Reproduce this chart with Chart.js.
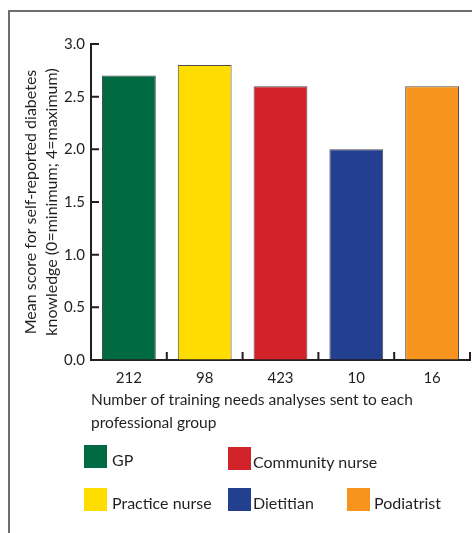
<!DOCTYPE html>
<html>
<head>
<meta charset="utf-8">
<script src="https://cdn.jsdelivr.net/npm/chart.js@4.4.1/dist/chart.umd.min.js"></script>
<style>
  body { margin: 0; background: #fff; }
  #wrap { position: relative; width: 472px; height: 533px; overflow: hidden; font-family: Lato, sans-serif; color: #231f20; }
  #frame { position: absolute; left: 8px; top: 10px; width: 480px; height: 540px; border-top: 2px solid #6d6e71; border-left: 2px solid #6d6e71; }
  #chartBox { position: absolute; left: 0; top: 0; width: 472px; height: 533px; }
  .item { position: absolute; font-size: 16px; line-height: 23px; white-space: nowrap; }
  .item span { position: absolute; left: 0; top: 0; width: 23px; height: 23px; }
  .item b { font-weight: normal; position: absolute; top: 3px; }
</style>
</head>
<body>
<div id="wrap">
  <div id="frame"></div>
  <div id="chartBox"><canvas id="myChart"></canvas></div>
  <div id="legend"></div>
</div>
<script>
const ctx = document.getElementById('myChart');

var groups = ['GP', 'Practice nurse', 'Community nurse', 'Dietitian', 'Podiatrist'];
var analysesSent = ['212', '98', '423', '10', '16'];
var meanScore = [2.7, 2.8, 2.6, 2.0, 2.6];
var groupColours = ['#006b43', '#ffdd00', '#d2232a', '#233f8f', '#f7941d'];

// where each legend entry sits (left, top, text offset)
var legendSpots = [[84, 445, 28], [84, 488, 28], [228, 447, 25], [228, 488, 25], [347, 488, 27]];

var ink = '#231f20';

// inward ticks, like the printed figure
const tickMarks = {
    id: 'tickMarks',
    afterDraw(chart) {
        const c = chart.ctx;
        const area = chart.chartArea;
        const x = chart.scales.x;
        const y = chart.scales.y;
        c.save();
        c.strokeStyle = ink;
        c.lineWidth = 2;
        c.beginPath();
        y.ticks.forEach((t, i) => {
            const py = y.getPixelForTick(i);
            c.moveTo(area.left, py);
            c.lineTo(area.left + 8, py);
        });
        for (let i = 1; i <= analysesSent.length; i++) {
            const px = x.getPixelForValue(i - 0.5);
            c.moveTo(px, area.bottom);
            c.lineTo(px, area.bottom - 8);
        }
        c.stroke();
        c.restore();
    }
};

new Chart(ctx, {
    type: 'bar',
    data: {
        labels: analysesSent,
        datasets: [{
            data: meanScore,
            backgroundColor: groupColours,
            borderColor: '#4d4d4f',
            borderWidth: 1,
            barPercentage: 0.71,
            categoryPercentage: 1
        }]
    },
    options: {
        responsive: true,
        maintainAspectRatio: false,
        animation: false,
        layout: { padding: { left: 18, right: 2, top: 44, bottom: 99 } },
        plugins: { legend: { display: false }, tooltip: { enabled: false } },
        scales: {
            y: {
                min: 0,
                max: 3,
                afterFit: (s) => { s.width = 73; },
                ticks: {
                    stepSize: 0.5,
                    color: ink,
                    padding: 6,
                    font: { family: 'Lato', size: 15 },
                    callback: (v) => v.toFixed(1)
                },
                grid: { drawOnChartArea: false, drawTicks: false },
                border: { color: ink, width: 2 },
                title: {
                    display: true,
                    text: ['Mean score for self-reported diabetes', 'knowledge (0=minimum; 4=maximum)'],
                    color: ink,
                    font: { family: 'Lato', size: 16, lineHeight: 1.3 },
                    padding: { top: 2.5, bottom: 0 }
                }
            },
            x: {
                afterFit: (s) => { s.height = 74; },
                ticks: {
                    color: ink,
                    padding: 9,
                    font: { family: 'Lato', size: 15 }
                },
                grid: { drawOnChartArea: false, drawTicks: false },
                border: { color: ink, width: 2 },
                title: {
                    display: true,
                    align: 'start',
                    text: ['Number of training needs analyses sent to each', 'professional group'],
                    color: ink,
                    font: { family: 'Lato', size: 15.5, lineHeight: 1.45 },
                    padding: { top: 0, bottom: 0 }
                }
            }
        }
    },
    plugins: [tickMarks]
});

// legend drawn as html from the same arrays
var legend = document.getElementById('legend');
groups.forEach((g, i) => {
    var el = document.createElement('div');
    el.className = 'item';
    el.style.left = legendSpots[i][0] + 'px';
    el.style.top = legendSpots[i][1] + 'px';
    el.innerHTML = '<span style="background:' + groupColours[i] + '"></span><b style="left:' + legendSpots[i][2] + 'px">' + g + '</b>';
    legend.appendChild(el);
});
</script>
</body>
</html>
